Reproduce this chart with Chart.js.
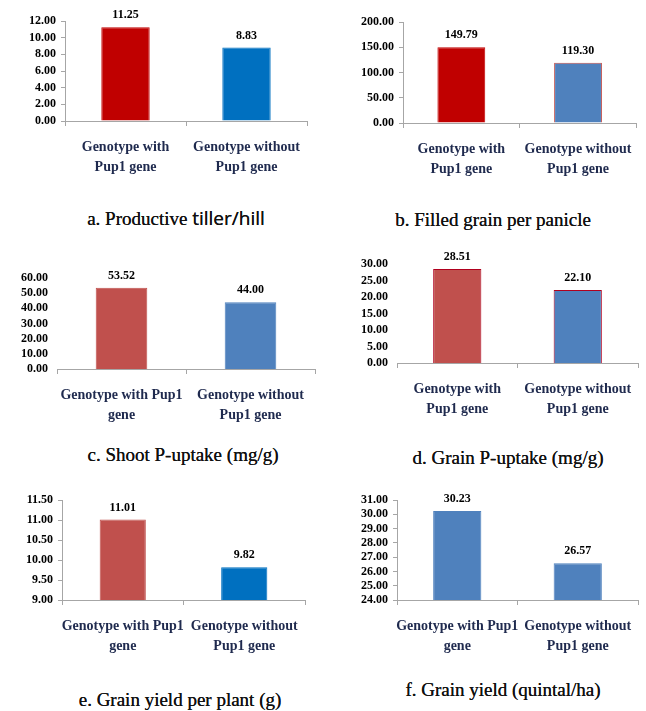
<!DOCTYPE html>
<html>
<head>
<meta charset="utf-8">
<script src="https://cdn.jsdelivr.net/npm/chart.js@4"></script>
<style>
  body { margin: 0; background: #fff; }
  #page { position: relative; width: 646px; height: 711px; overflow: hidden; }
  .panel { position: absolute; }
  .title { position: absolute; transform: translate(-50%, -50%); white-space: nowrap;
           font-family: "Liberation Serif", serif; font-size: 19px; color: #111;
           text-shadow: 0 0 0.5px #111; }
  .title .sans { font-family: "Open Sans", sans-serif; font-size: 19px; }
</style>
</head>
<body>
<div id="page">
  <div class="panel"><canvas id="c_a"></canvas></div>
  <div class="panel"><canvas id="c_b"></canvas></div>
  <div class="panel"><canvas id="c_c"></canvas></div>
  <div class="panel"><canvas id="c_d"></canvas></div>
  <div class="panel"><canvas id="c_e"></canvas></div>
  <div class="panel"><canvas id="c_f"></canvas></div>
  <div class="title" style="left:176px; top:218px;">a. Productive <span class="sans">tiller/hill</span></div>
  <div class="title" style="left:493px; top:220px;">b. Filled grain per panicle</div>
  <div class="title" style="left:183px; top:455px;">c. Shoot P-uptake (mg/g)</div>
  <div class="title" style="left:508px; top:458px;">d. Grain P-uptake (mg/g)</div>
  <div class="title" style="left:180px; top:700px;">e. Grain yield per plant (g)</div>
  <div class="title" style="left:503px; top:690px;">f. Grain yield (quintal/ha)</div>
</div>
<script>
// category labels (two ways of wrapping, as in the figure)
const labelsWrapA = [["Genotype with", "Pup1 gene"], ["Genotype without", "Pup1 gene"]];
const labelsWrapB = [["Genotype with Pup1", "gene"], ["Genotype without", "Pup1 gene"]];

// values
const tillerValues = [11.25, 8.83];
const filledGrainValues = [149.79, 119.30];
const shootUptakeValues = [53.52, 44.00];
const grainUptakeValues = [28.51, 22.10];
const yieldPlantValues = [11.01, 9.82];
const yieldHaValues = [30.23, 26.57];

// y axis ranges: min, max, step
const tillerAxis = [0, 12, 2];
const filledGrainAxis = [0, 200, 50];
const shootUptakeAxis = [0, 60, 10];
const grainUptakeAxis = [0, 30, 5];
const yieldPlantAxis = [9, 11.5, 0.5];
const yieldHaAxis = [24, 31, 1];

const AXIS_W = 60, XAXIS_H = 62, PAD_TOP = 22, PAD_RIGHT = 6;

// draws the value above each bar
const valueLabels = {
    id: 'valueLabels',
    afterDatasetsDraw(chart) {
        const ctx = chart.ctx;
        ctx.save();
        ctx.font = 'bold 12px "Liberation Serif", serif';
        ctx.fillStyle = '#000';
        ctx.textAlign = 'center';
        ctx.textBaseline = 'bottom';
        chart.getDatasetMeta(0).data.forEach(function(bar, i) {
            const v = chart.data.datasets[0].data[i];
            ctx.fillText(v.toFixed(2), bar.x, bar.y - 6);
        });
        ctx.restore();
    }
};

function makePanel(id, area, labels, values, axis, colors, borders, barPct, yLine) {
    const canvas = document.getElementById(id);
    const box = canvas.parentNode;
    const w = area.right - area.left + AXIS_W + PAD_RIGHT;
    const h = area.bottom - area.top + PAD_TOP + XAXIS_H;
    box.style.left = (area.left - AXIS_W) + 'px';
    box.style.top = (area.top - PAD_TOP) + 'px';
    box.style.width = w + 'px';
    box.style.height = h + 'px';
    new Chart(canvas.getContext('2d'), {
        type: 'bar',
        data: {
            labels: labels,
            datasets: [{
                data: values,
                backgroundColor: colors,
                borderColor: borders,
                borderWidth: 1,
                categoryPercentage: 1,
                barPercentage: barPct
            }]
        },
        options: {
            responsive: true,
            maintainAspectRatio: false,
            animation: false,
            layout: { padding: { top: PAD_TOP, right: PAD_RIGHT, left: 0, bottom: 0 } },
            plugins: { legend: { display: false }, tooltip: { enabled: false } },
            scales: {
                x: {
                    afterFit: function(s) { s.height = XAXIS_H; },
                    grid: { offset: true, drawOnChartArea: false, tickLength: 5, color: '#a6a6a6' },
                    border: { color: '#a6a6a6' },
                    ticks: {
                        color: '#1f2a4e',
                        padding: 11,
                        maxRotation: 0,
                        autoSkip: false,
                        font: { family: '"Liberation Serif", serif', size: 14, weight: 'bold', lineHeight: 1.45 }
                    }
                },
                y: {
                    min: axis[0],
                    max: axis[1],
                    afterFit: function(s) { s.width = AXIS_W; },
                    grid: { display: yLine, drawOnChartArea: false, tickLength: 4, color: '#a6a6a6' },
                    border: { display: yLine, color: '#a6a6a6' },
                    ticks: {
                        stepSize: axis[2],
                        autoSkip: false,
                        color: '#000',
                        padding: 5,
                        callback: function(v) { return v.toFixed(2); },
                        font: { family: '"Liberation Serif", serif', size: 12, weight: 'bold' }
                    }
                }
            }
        },
        plugins: [valueLabels]
    });
}

window.addEventListener('load', () => {
    makePanel('c_a', { left: 65, top: 21, right: 307, bottom: 121 }, labelsWrapA, tillerValues, tillerAxis,
        ['#c00000', '#0070c0'], ['#c00000', '#0070c0'], 0.4, true);
    makePanel('c_b', { left: 403, top: 22, right: 638, bottom: 123 }, labelsWrapA, filledGrainValues, filledGrainAxis,
        ['#c00000', '#4f81bd'], ['#c00000', '#c0504d'], 0.41, true);
    makePanel('c_c', { left: 57, top: 278, right: 315, bottom: 369 }, labelsWrapB, shootUptakeValues, shootUptakeAxis,
        ['#c0504d', '#4f81bd'], ['#c0504d', '#4f81bd'], 0.4, false);
    makePanel('c_d', { left: 397, top: 264, right: 638, bottom: 363 }, labelsWrapA, grainUptakeValues, grainUptakeAxis,
        ['#c0504d', '#4f81bd'], ['#b0001e', '#b0001e'], 0.4, false);
    makePanel('c_e', { left: 62, top: 500, right: 305, bottom: 600 }, labelsWrapB, yieldPlantValues, yieldPlantAxis,
        ['#c0504d', '#0070c0'], ['#c0504d', '#0070c0'], 0.38, true);
    makePanel('c_f', { left: 397, top: 500, right: 638, bottom: 600 }, labelsWrapB, yieldHaValues, yieldHaAxis,
        ['#4f81bd', '#4f81bd'], ['#4f81bd', '#4f81bd'], 0.4, true);
});
</script>
</body>
</html>
